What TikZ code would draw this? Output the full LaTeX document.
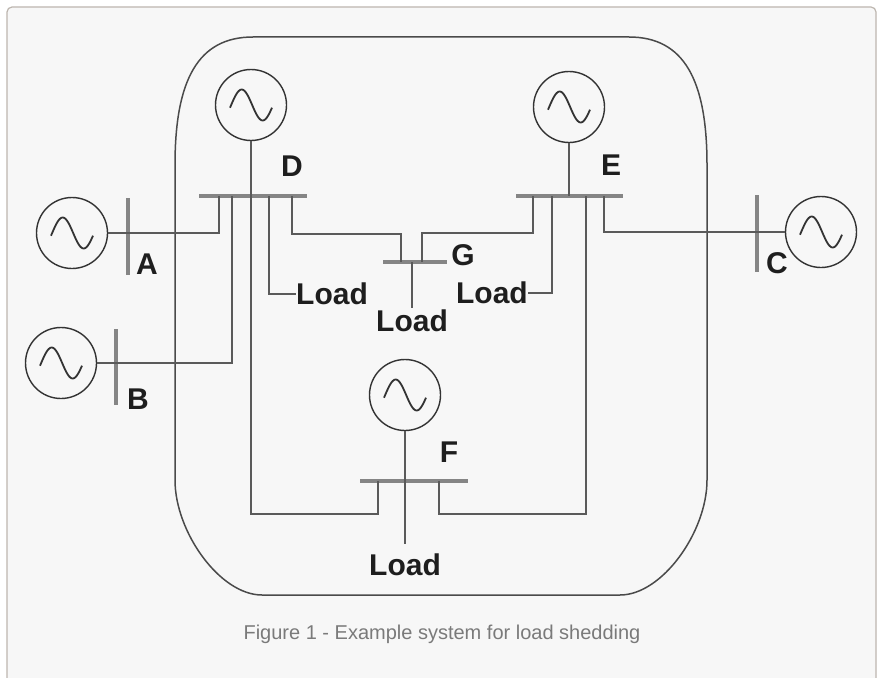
\documentclass[tikz,border=0pt]{standalone}
\usepackage{fontspec}
\setmainfont{Liberation Sans}
\usetikzlibrary{calc}
\definecolor{bgc}{HTML}{F7F7F7}
\definecolor{framec}{HTML}{BDB6AF}
\definecolor{regc}{HTML}{4A4A4A}
\definecolor{circ}{HTML}{333333}
\definecolor{busc}{HTML}{858585}
\definecolor{connc}{HTML}{5A5A5A}
\definecolor{txt}{HTML}{1E1E1E}
\definecolor{capc}{HTML}{7A7A7A}
\tikzset{
  gen/.style={circle, draw=circ, line width=1.4pt, minimum size=71pt, inner sep=0pt},
  wave/.style={draw=circ, line width=1.8pt},
  hbus/.style={rectangle, fill=busc, minimum height=3.2pt, inner sep=0pt},
  vbus/.style={rectangle, fill=busc, minimum width=3.2pt, inner sep=0pt},
  conn/.style={draw=connc, line width=2pt},
  lbl/.style={font=\bfseries\fontsize{30}{30}\selectfont, text=txt, inner sep=0pt},
  region/.style={draw=regc, line width=1.5pt}
}
\begin{document}
\begin{tikzpicture}[x=1pt,y=-1pt]
\useasboundingbox (0,0) rectangle (883,677);
\fill[white] (0,0) rectangle (883,677);
\begin{scope}
\clip (0,0) rectangle (883,677);
\draw[draw=framec, fill=bgc, line width=1.2pt, rounded corners=5pt] (7,7) rectangle (876,720);
\end{scope}

% region outline
\draw[region] (253,37) -- (629,37)
  .. controls (684,37) and (707,80) .. (707,165) -- (707,480)
  .. controls (707,532) and (662,595) .. (620,595) -- (262,595)
  .. controls (220,595) and (175,532) .. (175,480) -- (175,165)
  .. controls (175,80) and (198,37) .. (253,37) -- cycle;

% generators
\node[gen] (genA) at (72,233) {};
\node[gen] (genB) at (61,363) {};
\node[gen] (genC) at (821,232) {};
\node[gen] (genD) at (251,105) {};
\node[gen] (genE) at (569,107) {};
\node[gen] (genF) at (405,395) {};
\foreach \g in {genA,genB,genC,genD,genE,genF}
  \draw[wave, shift={(\g.center)}] plot[domain=-190:170, samples=41, smooth] ({21*(\x+10)/180},{15.5*sin(\x)});

% buses
\node[hbus, minimum width=108pt] (busD) at (253,196) {};
\node[hbus, minimum width=107pt] (busE) at (569.5,196) {};
\node[hbus, minimum width=64pt] (busG) at (415,262) {};
\node[hbus, minimum width=108pt] (busF) at (414,481) {};
\node[vbus, minimum height=77pt] (busA) at (128,236.5) {};
\node[vbus, minimum height=76pt] (busB) at (116,367) {};
\node[vbus, minimum height=77pt] (busC) at (757,233.5) {};

% tap points
\coordinate (dA) at (219,196);
\coordinate (dB) at (232,196);
\coordinate (dF) at (251,196);
\coordinate (dL) at (269,196);
\coordinate (dG) at (292,196);
\coordinate (eG) at (533,196);
\coordinate (eL) at (552,196);
\coordinate (eM) at (569,196);
\coordinate (eF) at (586,196);
\coordinate (eC) at (604,196);
\coordinate (gD) at (401,262);
\coordinate (gM) at (412,262);
\coordinate (gE) at (422,262);
\coordinate (fL) at (378,481);
\coordinate (fM) at (405,481);
\coordinate (fR) at (439,481);
\coordinate (gDk) at (401,234);
\coordinate (gEk) at (422,233);
\coordinate (fLd) at (378,514);
\coordinate (fRd) at (439,514);

% labels
\node[lbl] (labA) at (147,264) {A};
\node[lbl] (labB) at (138,399) {B};
\node[lbl] (labC) at (777,263) {C};
\node[lbl] (labD) at (292,166) {D};
\node[lbl] (labE) at (611,165) {E};
\node[lbl] (labF) at (449,452) {F};
\node[lbl] (labG) at (463,255) {G};
\node[lbl, anchor=west] (loadD) at (296,294) {Load};
\node[lbl, anchor=east] (loadE) at (528,293) {Load};
\node[lbl] (loadG) at (412,321) {Load};
\node[lbl] (loadF) at (405,565) {Load};

% connectors
\draw[conn] (genA.east) -| (dA);
\draw[conn] (genB.east) -| (dB);
\draw[conn] (genC.west) -| (eC);
\draw[conn] (genD.south) -- (dF);
\draw[conn] (genE.south) -- (eM);
\draw[conn] (genF.south) -- (fM);
\draw[conn] (dF) |- (fLd) -- (fL);
\draw[conn] (eF) |- (fRd) -- (fR);
\draw[conn] (dG) |- (gDk) -- (gD);
\draw[conn] (eG) |- (gEk) -- (gE);
\draw[conn] (dL) |- (loadD.west);
\draw[conn] (eL) |- (loadE.east);
\draw[conn, shorten >=2pt] (gM) -- (loadG.north);
\draw[conn, shorten >=10pt] (fM) -- (loadF.north);

% caption
\node[font=\fontsize{20}{24}\selectfont, text=capc, inner sep=0pt] (cap) at (442,634) {Figure 1 - Example system for load shedding};
\end{tikzpicture}
\end{document}
